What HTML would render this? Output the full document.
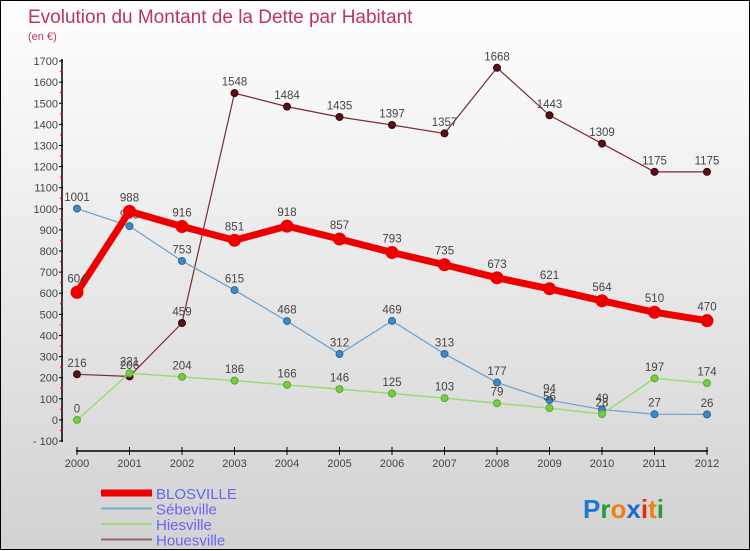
<!DOCTYPE html>
<html><head><meta charset="utf-8"><style>
body{margin:0;width:750px;height:550px;overflow:hidden;font-family:"Liberation Sans",sans-serif}
#wrap{position:relative;width:748px;height:548px;border:1px solid #000;background:linear-gradient(#ffffff,#d2d2d2)}
svg{position:absolute;left:0;top:0}
</style></head><body>
<div id="wrap">
<svg id="c" width="750" height="550"></svg>
</div>
<script>
const years=[2000,2001,2002,2003,2004,2005,2006,2007,2008,2009,2010,2011,2012];
const blosville=[604,988,916,851,918,857,793,735,673,621,564,510,470];
const sebeville=[1001,918,753,615,468,312,469,313,177,94,49,27,26];
const hiesville=[0,221,204,186,166,146,125,103,79,56,28,197,174];
const houesville=[216,206,459,1548,1484,1435,1397,1357,1668,1443,1309,1175,1175];
const yTicks=[-100,0,100,200,300,400,500,600,700,800,900,1000,1100,1200,1300,1400,1500,1600,1700];
const NS='http://www.w3.org/2000/svg';
const svg=document.getElementById('c');
function X(i){return 76+i*52.5;}
function Y(v){return 418.9-v*0.2111;}
function el(t,a,txt){const e=document.createElementNS(NS,t);for(const k in a)e.setAttribute(k,a[k]);if(txt!==undefined)e.textContent=txt;svg.appendChild(e);return e;}
let t=el('text',{x:27,y:22,fill:'#c0306a','font-size':19},'Evolution du Montant de la Dette par Habitant');

t=el('text',{x:27,y:39,fill:'#c0306a','font-size':11},'(en €)');

let a=el('line',{x1:61,y1:58,x2:61,y2:441,stroke:'#000','stroke-width':1.5});

a=el('line',{x1:75,y1:450,x2:707,y2:450,stroke:'#000','stroke-width':1.5});

yTicks.forEach((v,k)=>{const y=Y(v);
el('line',{x1:58,y1:y,x2:62,y2:y,stroke:'#000'});
if(k>0)el('line',{x1:59,y1:y+10.5,x2:62,y2:y+10.5,stroke:'#e00'});
let l=el('text',{x:57,y:y+4,'text-anchor':'end','font-size':11,fill:'#444'},v<0?'- '+(-v):String(v));
});
years.forEach((yr,i)=>{el('line',{x1:X(i),y1:446,x2:X(i),y2:454,stroke:'#000'});
let l=el('text',{x:X(i),y:466,'text-anchor':'middle','font-size':11,fill:'#444'},String(yr));
});
function series(data,name,color,w,r,dot,dotStroke){
const g=document.createElementNS(NS,'g');svg.appendChild(g);

const p=document.createElementNS(NS,'polyline');
p.setAttribute('points',data.map((v,i)=>X(i)+','+Y(v)).join(' '));
p.setAttribute('fill','none');p.setAttribute('stroke',color);p.setAttribute('stroke-width',w);g.appendChild(p);
data.forEach((v,i)=>{const c=document.createElementNS(NS,'circle');
c.setAttribute('cx',X(i));c.setAttribute('cy',Y(v));c.setAttribute('r',r);c.setAttribute('fill',dot);c.setAttribute('stroke',dotStroke);
g.appendChild(c);
const tx=document.createElementNS(NS,'text');tx.setAttribute('x',X(i));tx.setAttribute('y',Y(v)-r-4);
tx.setAttribute('text-anchor','middle');tx.setAttribute('font-size',11.5);tx.setAttribute('fill','#444');tx.textContent=v;
g.appendChild(tx);});}
series(houesville,'houesville-line','#7a2a30',1.2,3.5,'#5a1018','#3a0008');
series(sebeville,'sebeville-line','#6aa0cc',1.2,3.5,'#3d88c8','#2a6a9a');
series(hiesville,'hiesville-line','#99dd77',1.5,3.5,'#77cc44','#55aa33');
series(blosville,'blosville-line','#ee0000',7,6,'#ee0000','#ee0000');
const leg=[['BLOSVILLE','#ee0000',7],['Sébeville','#7aaed0',2],['Hiesville','#99dd77',2],['Houesville','#996666',2]];
leg.forEach((L,i)=>{const y=493+i*15.5;
let ln=el('line',{x1:100,y1:y-1,x2:151,y2:y-1,stroke:L[1],'stroke-width':L[2]});

let tx=el('text',{x:155,y:y+5,'font-size':15,fill:'#6666ee'},L[0]);
});
const logo=el('text',{x:582,y:517,'font-size':26,'font-weight':'bold'});

[['P','#1a7ad0'],['r','#2a9a3a'],['o','#f08010'],['x','#1a6ad0'],['i','#e03010'],['t','#f08010'],['i','#2a9a3a']].forEach(s=>{const ts=document.createElementNS(NS,'tspan');ts.setAttribute('fill',s[1]);ts.textContent=s[0];logo.appendChild(ts);});
</script>
</body></html>
